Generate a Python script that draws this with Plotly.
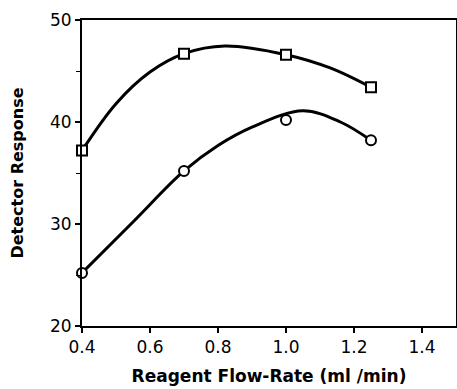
import plotly.graph_objects as go

# Measured points
flow = [0.4, 0.7, 1.0, 1.25]
square_resp = [37.2, 46.7, 46.6, 43.4]
circle_resp = [25.2, 35.2, 40.2, 38.2]

# Smooth curve points
sq_curve_x = [0.4, 0.5, 0.6, 0.7, 0.82, 1.0, 1.13, 1.25]
sq_curve_y = [37.2, 41.8, 44.9, 46.7, 47.45, 46.6, 45.3, 43.4]
ci_curve_x = [0.4, 0.55, 0.7, 0.8, 0.9, 1.05, 1.16, 1.25]
ci_curve_y = [25.2, 30.2, 35.2, 37.7, 39.5, 41.1, 40.0, 38.2]

x_ticks = [0.4, 0.6, 0.8, 1.0, 1.2, 1.4]
x_tick_labels = ["0.4", "0.6", "0.8", "1.0", "1.2", "1.4"]
y_ticks = [20, 30, 40, 50]

fig = go.Figure()
fig.add_trace(go.Scatter(x=sq_curve_x, y=sq_curve_y, mode="lines",
                         line=dict(color="black", width=3, shape="spline", smoothing=1.0),
                         showlegend=False, hoverinfo="skip"))
fig.add_trace(go.Scatter(x=ci_curve_x, y=ci_curve_y, mode="lines",
                         line=dict(color="black", width=3, shape="spline", smoothing=1.0),
                         showlegend=False, hoverinfo="skip"))
fig.add_trace(go.Scatter(x=flow, y=square_resp, mode="markers",
                         marker=dict(symbol="square", size=10, color="white",
                                     line=dict(color="black", width=2)),
                         showlegend=False, cliponaxis=False))
fig.add_trace(go.Scatter(x=flow, y=circle_resp, mode="markers",
                         marker=dict(symbol="circle", size=10, color="white",
                                     line=dict(color="black", width=2)),
                         showlegend=False, cliponaxis=False))

fig.update_layout(
    width=457, height=389,
    margin=dict(l=82, r=1, t=20, b=63),
    plot_bgcolor="white", paper_bgcolor="white",
    font=dict(family="DejaVu Sans", color="black"),
    xaxis=dict(range=[0.4, 1.5], tickvals=x_ticks, ticktext=x_tick_labels,
               automargin=False,
               showgrid=False, zeroline=False, showline=True, linecolor="black",
               linewidth=2, mirror=True, ticks="outside", ticklen=5, tickwidth=1.5,
               tickcolor="black", tickfont=dict(size=17),
               title=dict(text="<b>Reagent Flow-Rate (ml /min)</b>", font=dict(size=17),
                          standoff=14)),
    yaxis=dict(range=[20, 50], tickvals=y_ticks,
               automargin=False,
               showgrid=False, zeroline=False, showline=True, linecolor="black",
               linewidth=2, mirror=True, ticks="outside", ticklen=5, tickwidth=1.5,
               tickcolor="black", tickfont=dict(size=17),
               minor=dict(dtick=5, ticks="outside", ticklen=4, tickcolor="black", tickwidth=1),
               title=dict(text="<b>Detector Response</b>", font=dict(size=16),
                          standoff=22)),
)

fig.write_html("out.html",
               config={"displayModeBar": False},
               post_script="document.body.style.margin='0';document.body.style.overflow='hidden';")
